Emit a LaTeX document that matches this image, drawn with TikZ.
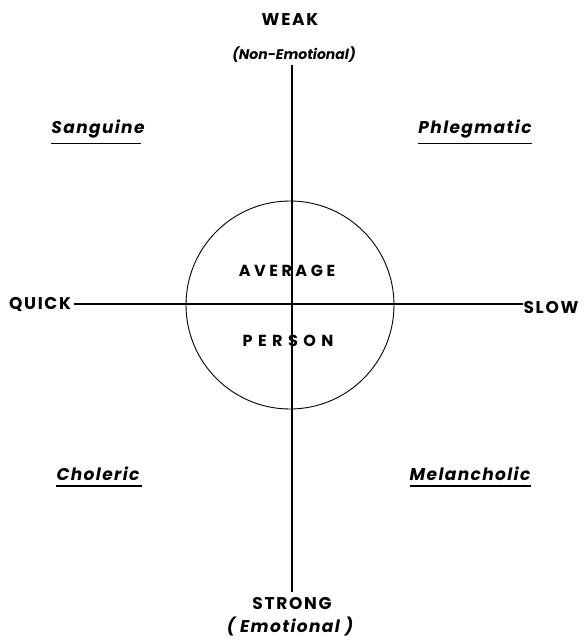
\documentclass[tikz,border=0pt]{standalone}
\usepackage{fontspec}
\setmainfont{Poppins}
\usetikzlibrary{positioning,calc}
\tikzset{caps/.style={font=\fontsize{17}{19}\selectfont\bfseries\addfontfeatures{LetterSpace=10},inner sep=0pt}}
\tikzset{wide/.style={font=\fontsize{16}{18}\selectfont\bfseries\addfontfeatures{LetterSpace=22},inner sep=0pt}}
\tikzset{temper/.style={font=\fontsize{17}{19}\selectfont\bfseries\itshape\addfontfeatures{LetterSpace=8},inner sep=0pt}}
\tikzset{axis/.style={line width=1.3pt}}
\tikzset{uline/.style={line width=1.6pt}}

\begin{document}
\begin{tikzpicture}[x=1pt,y=-1pt]
\useasboundingbox (0,0) rectangle (586,644);

    % axes and the circle
    \coordinate (o) at (290,305);
    \coordinate (top) at (292,65);
    \coordinate (bot) at (292,592);

    \node[caps] (quick) at (40,304) {QUICK};
    \node[caps] (slow) at (551,308) {SLOW};
    \node[caps] (weak) at (290,20) {WEAK};
    \node[temper,font=\fontsize{14}{16}\selectfont\bfseries\itshape] (nonemo) at (294,55) {(Non-Emotional)};
    \node[caps] (strong) at (292,603) {STRONG};
    \node[temper] (emo) at (290,627) {( Emotional )};

    \draw[axis] (quick.east) ++(3,0) coordinate (qe) -- (qe -| slow.west) coordinate (se);
    \draw[axis] (top) -- (bot);
    \draw[line width=0.9pt] (o) circle[radius=104];

    \node[wide] (avg) at (287,271) {AVERAGE};
    \node[wide,font=\fontsize{16}{18}\selectfont\bfseries\addfontfeatures{LetterSpace=34}] (pers) at (288,341) {PERSON};

    % the four temperaments
    \node[temper] (sang) at (98,129) {Sanguine};
    \node[temper] (phleg) at (475,129) {Phlegmatic};
    \node[temper] (chol) at (98,474) {Choleric};
    \node[temper] (melan) at (470,474) {Melancholic};

    \draw[uline] ($(sang.south west)+(0,5)$) -- ($(sang.south east)+(-4,5)$);
    \draw[uline] ($(phleg.south west)+(0,5)$) -- ($(phleg.south east)+(0,5)$);
    \draw[uline] ($(chol.south west)+(0,5)$) -- ($(chol.south east)+(2,5)$);
    \draw[uline] ($(melan.south west)+(0,5)$) -- ($(melan.south east)+(0,5)$);
\end{tikzpicture}
\end{document}
